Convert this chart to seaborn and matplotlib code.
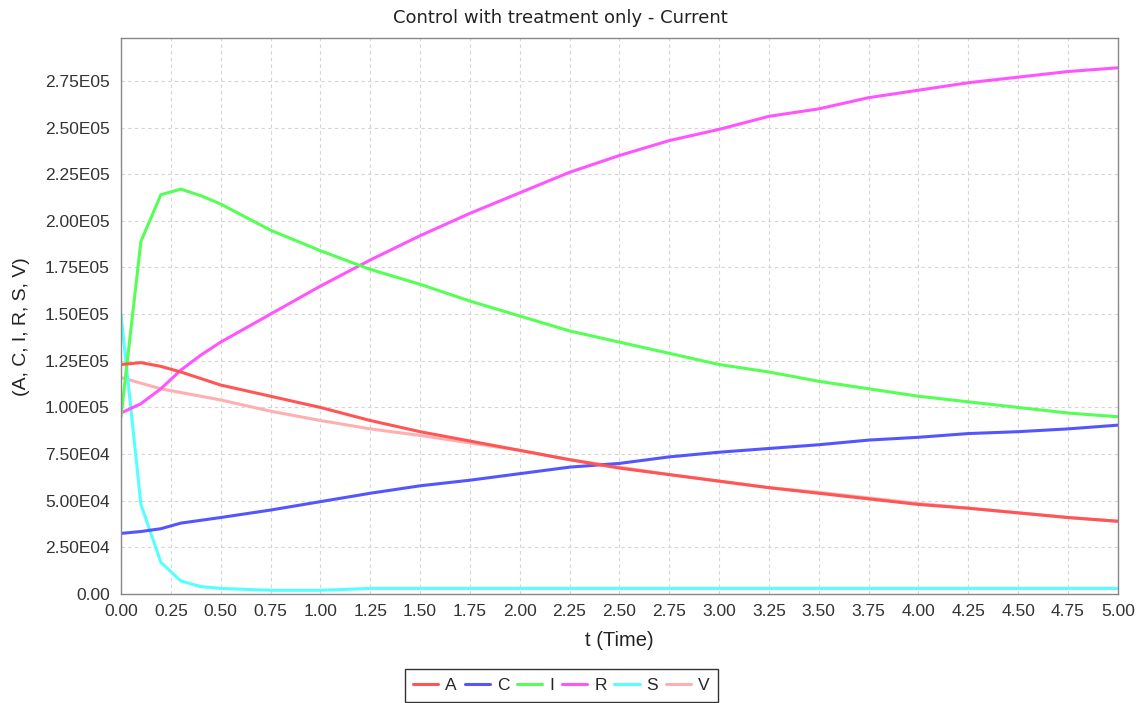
import matplotlib
matplotlib.use("Agg")
import matplotlib.pyplot as plt
import matplotlib.ticker as mticker
import seaborn as sns
import pandas as pd

# time points
t_early = [0.0, 0.1, 0.2, 0.3, 0.4, 0.5]
t_late = [0.75, 1.0, 1.25, 1.5, 1.75, 2.0, 2.25, 2.5, 2.75, 3.0, 3.25, 3.5,
          3.75, 4.0, 4.25, 4.5, 4.75, 5.0]
t_all = t_early + t_late

A = [1.23e5, 1.24e5, 1.22e5, 1.19e5, 1.155e5, 1.12e5,
     1.06e5, 1.0e5, 9.3e4, 8.7e4, 8.2e4, 7.7e4, 7.2e4, 6.75e4, 6.4e4, 6.05e4,
     5.7e4, 5.4e4, 5.1e4, 4.8e4, 4.6e4, 4.35e4, 4.1e4, 3.9e4]
C = [3.25e4, 3.35e4, 3.5e4, 3.8e4, 3.95e4, 4.1e4,
     4.5e4, 4.95e4, 5.4e4, 5.8e4, 6.1e4, 6.45e4, 6.8e4, 7.0e4, 7.35e4, 7.6e4,
     7.8e4, 8.0e4, 8.25e4, 8.4e4, 8.6e4, 8.7e4, 8.85e4, 9.05e4]
I = [9.5e4, 1.89e5, 2.14e5, 2.17e5, 2.135e5, 2.09e5,
     1.95e5, 1.84e5, 1.74e5, 1.66e5, 1.57e5, 1.49e5, 1.41e5, 1.35e5, 1.29e5, 1.23e5,
     1.19e5, 1.14e5, 1.10e5, 1.06e5, 1.03e5, 1.0e5, 9.7e4, 9.5e4]
R = [9.7e4, 1.02e5, 1.1e5, 1.2e5, 1.28e5, 1.35e5,
     1.5e5, 1.65e5, 1.79e5, 1.92e5, 2.04e5, 2.15e5, 2.26e5, 2.35e5, 2.43e5, 2.49e5,
     2.56e5, 2.6e5, 2.66e5, 2.7e5, 2.74e5, 2.77e5, 2.8e5, 2.82e5]
S = [1.5e5, 4.8e4, 1.7e4, 7e3, 4e3, 3e3,
     2e3, 2e3, 3e3, 3e3, 3e3, 3e3, 3e3, 3e3, 3e3, 3e3,
     3e3, 3e3, 3e3, 3e3, 3e3, 3e3, 3e3, 3e3]
V = [1.16e5, 1.13e5, 1.1e5, 1.08e5, 1.06e5, 1.04e5,
     9.8e4, 9.3e4, 8.85e4, 8.5e4, 8.1e4, 7.7e4, 7.2e4, 6.8e4, 6.4e4, 6.05e4,
     5.7e4, 5.45e4, 5.15e4, 4.85e4, 4.6e4, 4.35e4, 4.1e4, 3.9e4]

names = ["A", "C", "I", "R", "S", "V"]
colors = ["#FF5555", "#5555FF", "#55FF55", "#FF55FF", "#55FFFF", "#FFAFAF"]

rows = []
for name, vals in zip(names, [A, C, I, R, S, V]):
    for t, v in zip(t_all, vals):
        rows.append({"t": t, "value": v, "series": name})
df = pd.DataFrame(rows)

sns.set_style("white")
plt.rcParams["font.family"] = ["Liberation Sans", "DejaVu Sans"]

fig = plt.figure(figsize=(11.36, 7.03), dpi=100)
ax = fig.add_axes([0.1065, 0.155, 0.8775, 0.791])

# draw V, S, R, I, C first and A last so red sits on top of pink
draw_order = ["V", "S", "R", "I", "C", "A"]
pal = dict(zip(names, colors))
for name in draw_order:
    sns.lineplot(data=df[df["series"] == name], x="t", y="value",
                 color=pal[name], linewidth=2.2, ax=ax, sort=False,
                 estimator=None, label=name)

ax.set_xlim(0, 5)
ax.set_ylim(0, 2.98e5)
ax.xaxis.set_major_locator(mticker.MultipleLocator(0.25))
ax.yaxis.set_major_locator(mticker.MultipleLocator(2.5e4))


def sci_fmt(v, pos):
    if v == 0:
        return "0.00"
    exp = int(f"{v:e}".split("e")[1])
    return f"{v / 10 ** exp:.2f}E{exp:02d}"


ax.yaxis.set_major_formatter(mticker.FuncFormatter(sci_fmt))
ax.xaxis.set_major_formatter(mticker.FormatStrFormatter("%.2f"))
ax.tick_params(axis="both", labelsize=12.5, colors="#333333", length=2, width=0.8)
ax.tick_params(axis="y", pad=6)
ax.tick_params(axis="x", pad=5)
for lbl in ax.get_xticklabels() + ax.get_yticklabels():
    lbl.set_color("#333333")

ax.grid(True, color="#D4D4D4", linestyle=(0, (3, 3)), linewidth=0.8)
for sp in ax.spines.values():
    sp.set_color("#888888")
    sp.set_linewidth(1)

fig.text(560 / 1136, 1 - 18 / 703, "Control with treatment only - Current",
         fontsize=13, color="#222222", ha="center", va="center",
         family=["DejaVu Sans"])
ax.set_xlabel("t (Time)", fontsize=14.5, color="#222222")
ax.set_ylabel("(A, C, I, R, S, V)", fontsize=14, color="#222222")
ax.xaxis.set_label_coords(0.5, -(640 - 594) / 556)
ax.yaxis.set_label_coords(-(121 - 21) / 997, 0.48)
ax.xaxis.label.set_va("center")
ax.yaxis.label.set_va("center")

handles, labels = ax.get_legend_handles_labels()
order = [labels.index(n) for n in names]
leg = fig.legend([handles[i] for i in order], names, loc="upper center",
                 bbox_to_anchor=(561.5 / 1136, 1 - 669 / 703), ncol=6,
                 frameon=True, fancybox=False, fontsize=12.5, handlelength=1.45,
                 handletextpad=0.4, columnspacing=0.45, borderpad=0.5,
                 borderaxespad=0)
leg.get_frame().set_edgecolor("black")
leg.get_frame().set_linewidth(1)
if ax.get_legend():
    ax.get_legend().remove()

fig.savefig("out.png", dpi=100)
